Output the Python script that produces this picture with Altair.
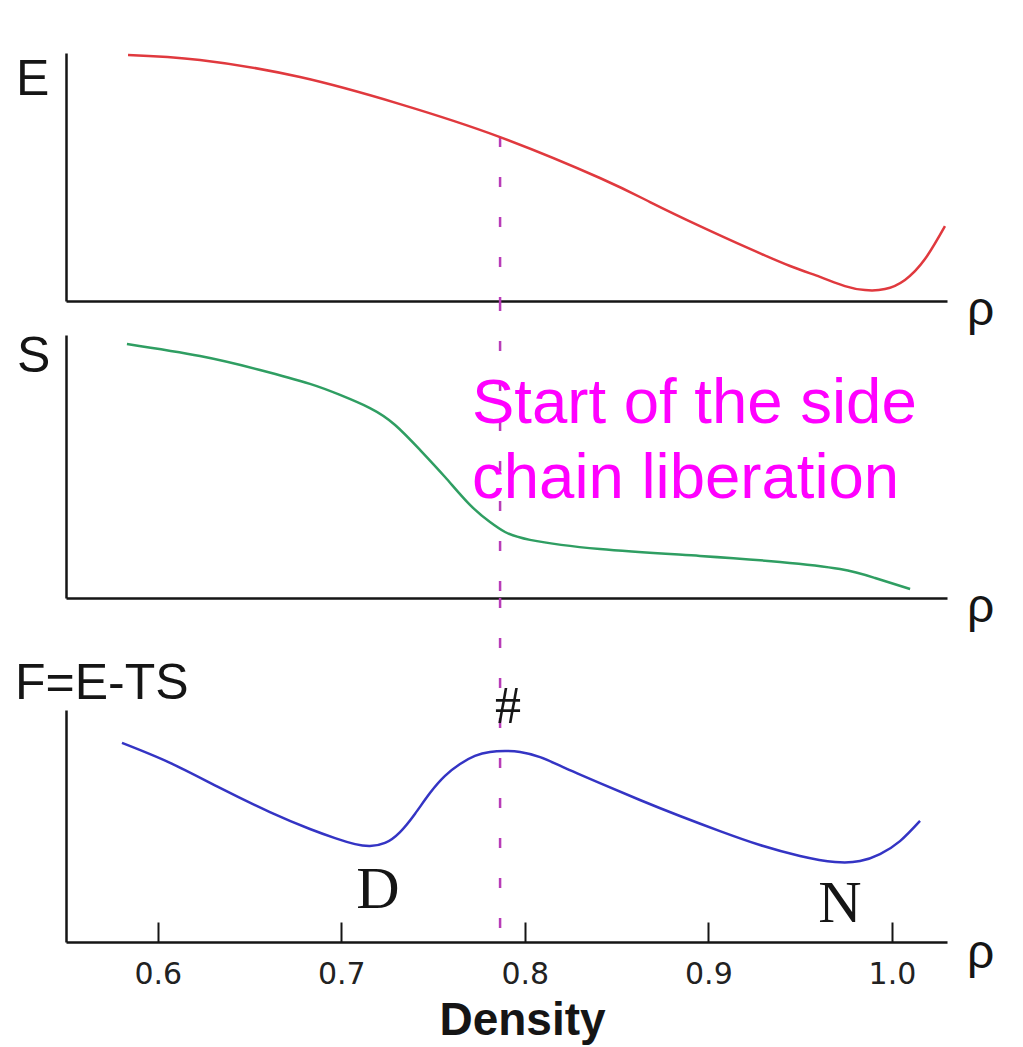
import altair as alt
import pandas as pd

# ---------------- data ----------------
x_domain = [0.55, 1.03]
tick_values = [0.6, 0.7, 0.8, 0.9, 1.0]

e_x = [0.5838, 0.6230, 0.6775, 0.7320, 0.7865, 0.8409, 0.8682, 0.8954, 0.9227,
       0.9445, 0.9608, 0.9744, 0.9853, 0.9962, 1.0071, 1.0180, 1.0289]
e_y = [99.2, 97.2, 90.3, 79.4, 66.1, 49.6, 39.9, 30.2, 21.0,
       14.1, 9.7, 6.0, 4.4, 4.8, 8.5, 16.9, 30.2]

s_x = [0.5832, 0.6230, 0.6557, 0.6829, 0.6993, 0.7156, 0.7293, 0.7429,
       0.7565, 0.7701, 0.7810, 0.7892, 0.8028, 0.8409, 0.8954, 0.9390,
       0.9717, 0.9908, 1.0099]
s_y = [96.6, 92.0, 86.7, 81.4, 77.2, 72.2, 65.8, 56.3,
       46.0, 35.4, 28.9, 25.1, 22.1, 18.6, 16.0, 13.7,
       11.0, 7.6, 3.4]

f_x = [0.5805, 0.6067, 0.6339, 0.6611, 0.6829, 0.6966, 0.7075, 0.7156,
       0.7238, 0.7320, 0.7401, 0.7483, 0.7565, 0.7647, 0.7728, 0.7810,
       0.7892, 0.7974, 0.8083, 0.8208, 0.8409, 0.8627, 0.8845, 0.9063,
       0.9281, 0.9499, 0.9690, 0.9826, 0.9935, 1.0044, 1.0153]
f_y = [85.8, 77.2, 66.4, 56.0, 48.7, 44.8, 42.2, 41.4,
       42.7, 47.4, 55.2, 64.2, 71.6, 76.7, 80.2, 81.9,
       82.3, 81.9, 79.7, 75.4, 68.5, 61.2, 54.3, 47.8,
       41.8, 37.1, 34.5, 34.9, 37.9, 43.5, 52.2]

dash_x = 0.7865
dash_e_start = 66.1

panel_labels = ["E", "S", "F=E-TS"]
axis_symbol = "ρ"
annotation = "Start of the side\nchain liberation"
peak_label = "#"
min_labels = ["D", "N"]
x_title = "Density"

# ---------------- styling ----------------
W = 881
E_H, S_H, F_H = 261, 297, 344
E_TOP, S_TOP, F_TOP = 13, 34, 112
E_COLOR, S_COLOR, F_COLOR = "#e0393e", "#2f9e62", "#3434c4"
DASH_COLOR = "#b83cb8"
INK = "#151515"
SANS = "Liberation Sans"
SERIF = "Liberation Serif"
CURVE = "natural"

xscale = alt.Scale(domain=x_domain, nice=False, zero=False)

def plain_x():
    return alt.Axis(orient="bottom", title=None, labels=False, ticks=False, grid=False,
                    domainColor=INK, domainWidth=2.5)

def plain_y():
    return alt.Axis(orient="left", title=None, labels=False, ticks=False, grid=False,
                    domainColor=INK, domainWidth=2.5)

def yscale(h, top):
    return alt.Scale(domain=[0, 100], range=[h, top], nice=False, zero=False)

def text_layer(txt, x, y, size, font=SANS, color=INK, align="left", **kw):
    return alt.Chart(pd.DataFrame({"t": [txt]})).mark_text(
        font=font, fontSize=size, color=color, align=align, baseline="alphabetic", **kw
    ).encode(text="t:N", x=alt.value(x), y=alt.value(y))

def dash_rule(df, axis, **enc):
    return alt.Chart(df).mark_rule(
        color=DASH_COLOR, strokeWidth=2.5, strokeDash=[10, 30]
    ).encode(x=alt.X("x:Q", scale=xscale, axis=axis), **enc)

# ---------- E panel ----------
e_df = pd.DataFrame({"x": e_x, "y": e_y})
e_line = alt.Chart(e_df).mark_line(color=E_COLOR, strokeWidth=2.5, interpolate=CURVE).encode(
    x=alt.X("x:Q", scale=xscale, axis=plain_x()),
    y=alt.Y("y:Q", scale=yscale(E_H, E_TOP), axis=plain_y()),
)
e_dash = dash_rule(
    pd.DataFrame({"x": [dash_x], "y": [dash_e_start], "y0": [0]}), plain_x(),
    y=alt.Y("y:Q", scale=yscale(E_H, E_TOP), axis=plain_y()), y2="y0:Q",
)
e_panel = alt.layer(
    e_dash, e_line,
    text_layer(panel_labels[0], -50, 55, 50),
    text_layer(axis_symbol, 901, E_H + 24, 48),
).properties(width=W, height=E_H)

# ---------- S panel ----------
s_df = pd.DataFrame({"x": s_x, "y": s_y})
s_line = alt.Chart(s_df).mark_line(color=S_COLOR, strokeWidth=2.5, interpolate=CURVE).encode(
    x=alt.X("x:Q", scale=xscale, axis=plain_x()),
    y=alt.Y("y:Q", scale=yscale(S_H, S_TOP), axis=plain_y()),
)
s_dash = dash_rule(pd.DataFrame({"x": [dash_x]}), plain_x())
s_panel = alt.layer(
    s_dash, s_line,
    text_layer(panel_labels[1], -49, 71, 50),
    text_layer(axis_symbol, 901, S_H + 24, 48),
    text_layer(annotation, 406, 122, 63.5, color="#ff00ff", lineBreak="\n", lineHeight=75),
).properties(width=W, height=S_H)

# ---------- F panel ----------
f_df = pd.DataFrame({"x": f_x, "y": f_y})
label_axis = alt.Axis(
    orient="bottom", values=tick_values, format=".1f", ticks=False, tickSize=0, grid=False,
    domainColor=INK, domainWidth=2.5, labelFont="DejaVu Sans", labelFontSize=30,
    labelColor="#222", labelPadding=17, title=x_title, titleFont=SANS, titleFontSize=46,
    titleFontWeight="bold", titleColor=INK, titleX=456, titleY=92,
    titleBaseline="alphabetic", titleAlign="center",
)
tick_axis = alt.Axis(
    orient="bottom", values=tick_values, offset=-20, tickSize=20, tickWidth=2, tickColor=INK,
    labels=False, domain=False, grid=False, title=None,
)
f_line = alt.Chart(f_df).mark_line(color=F_COLOR, strokeWidth=2.5, interpolate=CURVE).encode(
    x=alt.X("x:Q", scale=xscale, axis=label_axis),
    y=alt.Y("y:Q", scale=yscale(F_H, F_TOP), axis=plain_y()),
)
f_dash = dash_rule(pd.DataFrame({"x": [dash_x]}), tick_axis)
f_panel = alt.layer(
    f_dash, f_line,
    text_layer(panel_labels[2], -51, 101, 50),
    text_layer(axis_symbol, 901, F_H + 26, 48),
    text_layer(peak_label, 442, 125, 52, font=SERIF, align="center"),
    text_layer(min_labels[0], 312, 310, 60, font=SERIF, align="center"),
    text_layer(min_labels[1], 774, 324, 60, font=SERIF, align="center"),
).resolve_axis(x="independent").properties(width=W, height=F_H)

chart = alt.vconcat(e_panel, s_panel, f_panel, spacing=0, bounds="flush").resolve_scale(
    x="independent", y="independent"
).properties(
    padding={"left": 7, "top": 32, "right": 5, "bottom": 5}, background="white"
).configure_view(stroke=None)

chart.save("out.html", embed_options={"renderer": "svg", "actions": False})
